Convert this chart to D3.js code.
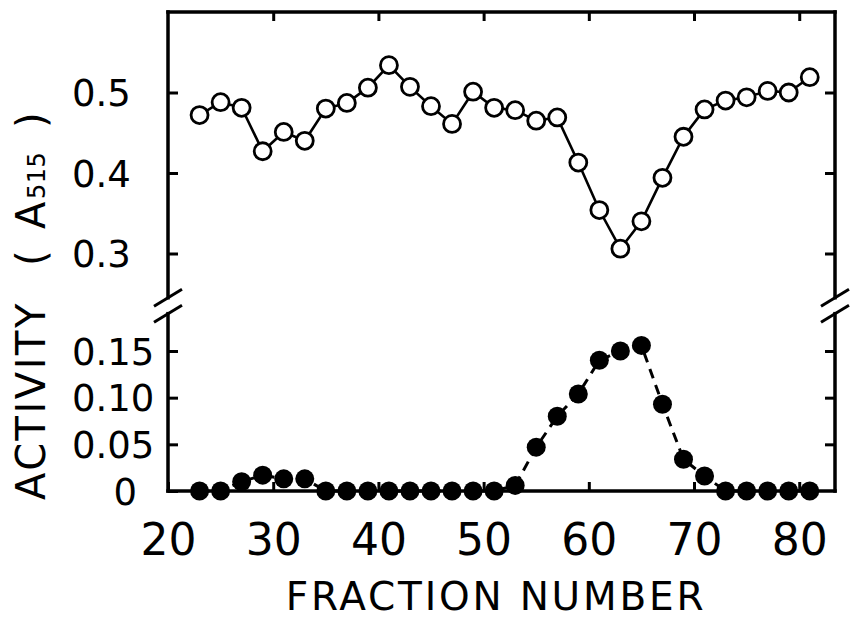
<!DOCTYPE html>
<html>
<head>
<meta charset="utf-8">
<script src="https://cdn.jsdelivr.net/npm/d3@7"></script>
<style>
  html, body { margin: 0; padding: 0; background: #fff; }
  svg { display: block; font-family: 'DejaVu Sans', sans-serif; }
</style>
</head>
<body>
<div id="chart"></div>
<script>
// fraction numbers (x) and the two measured series
const fractions = [23, 25, 27, 29, 31, 33, 35, 37, 39, 41, 43, 45, 47, 49, 51,
  53, 55, 57, 59, 61, 63, 65, 67, 69, 71, 73, 75, 77, 79, 81]
const absorbance = [0.472, 0.488, 0.481, 0.427, 0.451, 0.440, 0.480, 0.487, 0.506, 0.534,
  0.507, 0.483, 0.461, 0.501, 0.481, 0.478, 0.465, 0.469, 0.413, 0.354,
  0.306, 0.340, 0.394, 0.445, 0.479, 0.490, 0.494, 0.502, 0.500, 0.519]
const activity = [0, 0, 0.010, 0.017, 0.013, 0.013, 0, 0, 0, 0,
  0, 0, 0, 0, 0, 0.006, 0.047, 0.080, 0.104, 0.140,
  0.150, 0.156, 0.093, 0.034, 0.016, 0, 0, 0, 0, 0]

const xTicks = [20, 30, 40, 50, 60, 70, 80]
const absTicks = [0.3, 0.4, 0.5]
const absTickLabels = ['0.3', '0.4', '0.5']
const actTicks = [0, 0.05, 0.1, 0.15]
const actTickLabels = ['0', '0.05', '0.10', '0.15']

const width = 850
const height = 622
const frame = { left: 168, right: 835, top: 12, bottom: 491 }

const x = d3.scaleLinear().domain([20, 83.4]).range([frame.left, frame.right])
const yAbs = d3.scaleLinear().domain([0.3, 0.6]).range([253.5, frame.top])
const yAct = d3.scaleLinear().domain([0, 0.15]).range([frame.bottom, 351])

// where the broken y axis stops / restarts
const absBreak = 0.245
const actBreak = 0.19

const svg = d3.select('#chart').append('svg')
  .attr('width', width)
  .attr('height', height)

const absData = fractions.map((f, i) => ({ f, v: absorbance[i] }))
const actData = fractions.map((f, i) => ({ f, v: activity[i] }))

// frame
const frameGroup = svg.append('g')
  .attr('stroke', '#000')
  .attr('stroke-width', 3.5)
  .attr('fill', 'none')
  .attr('stroke-linecap', 'square')

frameGroup.append('line')
  .attr('x1', frame.left).attr('x2', frame.right)
  .attr('y1', frame.top).attr('y2', frame.top)
frameGroup.append('line')
  .attr('x1', frame.left).attr('x2', frame.right)
  .attr('y1', frame.bottom).attr('y2', frame.bottom)

;[frame.left, frame.right].forEach(xp => {
  frameGroup.append('line')
    .attr('x1', xp).attr('x2', xp)
    .attr('y1', frame.top).attr('y2', yAbs(absBreak))
  frameGroup.append('line')
    .attr('x1', xp).attr('x2', xp)
    .attr('y1', yAct(actBreak)).attr('y2', frame.bottom)
  // break marks
  ;[yAbs(absBreak), yAct(actBreak)].forEach(yc => {
    frameGroup.append('line')
      .attr('stroke-width', 3)
      .attr('stroke-linecap', 'butt')
      .attr('x1', xp - 14).attr('y1', yc + 8.5)
      .attr('x2', xp + 14).attr('y2', yc - 8.5)
  })
})

const styleAxis = g => {
  g.select('.domain').remove()
  g.attr('font-family', null).attr('font-size', null)
  g.selectAll('.tick line').attr('stroke', '#000').attr('stroke-width', 3)
  g.selectAll('.tick text').attr('fill', '#000')
}

// bottom axis with labels
svg.append('g')
  .attr('transform', `translate(0,${frame.bottom})`)
  .call(d3.axisBottom(x).tickValues(xTicks).tickSize(-9).tickPadding(33).tickFormat(d => d))
  .call(styleAxis)
  .selectAll('.tick text')
  .attr('font-size', 44)

// top axis, ticks only
svg.append('g')
  .attr('transform', `translate(0,${frame.top})`)
  .call(d3.axisTop(x).tickValues(xTicks.filter(d => d > 20)).tickSize(-9).tickFormat(''))
  .call(styleAxis)

// left axes with labels
const leftLabels = g => {
  g.selectAll('.tick text')
    .attr('font-size', 37)
    .attr('dy', '0.36em')
    .attr('text-anchor', d => (d === 0 ? 'end' : 'start'))
    .attr('x', d => (d === 0 ? 137 - frame.left : 72 - frame.left))
}

svg.append('g')
  .attr('transform', `translate(${frame.left},0)`)
  .call(d3.axisLeft(yAbs).tickValues(absTicks).tickSize(-10)
    .tickFormat((d, i) => absTickLabels[i]))
  .call(styleAxis)
  .call(leftLabels)

svg.append('g')
  .attr('transform', `translate(${frame.left},0)`)
  .call(d3.axisLeft(yAct).tickValues(actTicks).tickSize(-10)
    .tickFormat((d, i) => actTickLabels[i]))
  .call(styleAxis)
  .call(leftLabels)

// right axes, ticks only
svg.append('g')
  .attr('transform', `translate(${frame.right},0)`)
  .call(d3.axisRight(yAbs).tickValues(absTicks).tickSize(-10).tickFormat(''))
  .call(styleAxis)

svg.append('g')
  .attr('transform', `translate(${frame.right},0)`)
  .call(d3.axisRight(yAct).tickValues(actTicks.filter(d => d > 0)).tickSize(-10).tickFormat(''))
  .call(styleAxis)

// activity: dashed line with filled dots
svg.append('path')
  .datum(actData)
  .attr('fill', 'none')
  .attr('stroke', '#000')
  .attr('stroke-width', 3)
  .attr('stroke-dasharray', '10,7')
  .attr('d', d3.line().x(d => x(d.f)).y(d => yAct(d.v)))

svg.append('g')
  .selectAll('circle')
  .data(actData)
  .join('circle')
  .attr('cx', d => x(d.f))
  .attr('cy', d => yAct(d.v))
  .attr('r', 9.5)
  .attr('fill', '#000')

// absorbance: solid line with open circles
svg.append('path')
  .datum(absData)
  .attr('fill', 'none')
  .attr('stroke', '#000')
  .attr('stroke-width', 2.6)
  .attr('d', d3.line().x(d => x(d.f)).y(d => yAbs(d.v)))

svg.append('g')
  .selectAll('circle')
  .data(absData)
  .join('circle')
  .attr('cx', d => x(d.f))
  .attr('cy', d => yAbs(d.v))
  .attr('r', 8.5)
  .attr('fill', '#fff')
  .attr('stroke', '#000')
  .attr('stroke-width', 2.8)

// axis titles
svg.append('text')
  .attr('x', 496)
  .attr('y', 610)
  .attr('text-anchor', 'middle')
  .attr('font-size', 39)
  .attr('letter-spacing', 2.8)
  .text('FRACTION NUMBER')

const yTitle = svg.append('g').attr('transform', 'rotate(-90)')
const titleParts = [
  { t: 'ACTIVITY', pos: 500, size: 40, ls: 2.5 },
  { t: '(', pos: 266, size: 40, ls: 0 },
  { t: 'A', pos: 229, size: 40, ls: 0 },
  { t: '515', pos: 199, size: 24, ls: 0.5 },
  { t: ')', pos: 128, size: 40, ls: 0 }
]
yTitle.selectAll('text')
  .data(titleParts)
  .join('text')
  .attr('x', d => -d.pos)
  .attr('y', 45)
  .attr('font-size', d => d.size)
  .attr('letter-spacing', d => d.ls)
  .text(d => d.t)
</script>
</body>
</html>
